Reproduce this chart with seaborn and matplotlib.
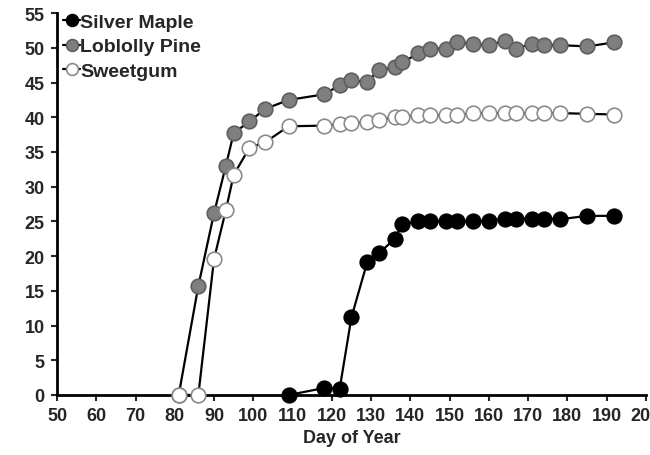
import matplotlib
matplotlib.use('Agg')
import matplotlib.pyplot as plt
import pandas as pd
import seaborn as sns

# Data (day of year vs. value)
days = [81, 86, 90, 93, 95, 99, 103, 109, 118, 122, 125, 129, 132, 136, 138,
        142, 145, 149, 152, 156, 160, 164, 167, 171, 174, 178, 185, 192]

maple_days = [109, 118, 122, 125, 129, 132, 136, 138, 142, 145, 149, 152, 156,
              160, 164, 167, 171, 174, 178, 185, 192]
maple = [0, 1.0, 0.9, 11.2, 19.1, 20.4, 22.5, 24.6, 25.0, 25.0, 25.0, 25.0, 25.0,
         25.1, 25.4, 25.4, 25.4, 25.4, 25.3, 25.8, 25.8]

pine_days = days
pine = [0, 15.7, 26.2, 33.0, 37.7, 39.4, 41.2, 42.5, 43.3, 44.6, 45.3, 45.1, 46.8,
        47.2, 47.9, 49.2, 49.9, 49.9, 50.9, 50.5, 50.4, 51.0, 49.9, 50.6, 50.4,
        50.4, 50.2, 50.8]

gum_days = days
gum = [0, 0, 19.6, 26.6, 31.7, 35.6, 36.4, 38.7, 38.8, 39.0, 39.2, 39.3, 39.6,
       40.0, 40.1, 40.3, 40.3, 40.3, 40.3, 40.6, 40.6, 40.6, 40.6, 40.6, 40.6,
       40.6, 40.5, 40.4]

sns.set_style('ticks')
plt.rcParams['font.family'] = ['Liberation Sans', 'DejaVu Sans']
plt.rcParams['font.weight'] = 'bold'

fig = plt.figure(figsize=(6.5, 4.56), dpi=100)
ax = fig.add_axes([0.0877, 0.1316, 0.906, 0.8374])

series = [
    ('Silver Maple', maple_days, maple, 'black', 'black'),
    ('Loblolly Pine', pine_days, pine, '#7f7f7f', '#5e5e5e'),
    ('Sweetgum', gum_days, gum, 'white', '#8a8a8a'),
]
for name, x, y, fc, ec in series:
    d = pd.DataFrame({'day': x, 'value': y})
    sns.lineplot(data=d, x='day', y='value', ax=ax, color='black', lw=1.6,
                 marker='o', markersize=10.5, markerfacecolor=fc,
                 markeredgecolor=ec, markeredgewidth=1.2, label=name,
                 clip_on=False, zorder=3)

ax.set_xlim(50, 200)
ax.set_ylim(0, 55)
ax.set_xticks(range(50, 201, 10))
ax.set_yticks(range(0, 56, 5))
ax.set_xlabel('Day of Year', fontsize=13, fontweight='bold', labelpad=3)
ax.set_ylabel('')
ax.tick_params(labelsize=13, width=1.5, length=4, direction='out', pad=5)
for lab in ax.get_xticklabels() + ax.get_yticklabels():
    lab.set_fontweight('bold')
sns.despine(ax=ax)
for s in ['left', 'bottom']:
    ax.spines[s].set_linewidth(2)
    ax.spines[s].set_color('black')

leg = ax.legend(loc='upper left', bbox_to_anchor=(-0.01, 1.03), frameon=False,
                handlelength=0.9, handletextpad=0.0, labelspacing=0.35,
                borderaxespad=0.2, prop={'size': 14, 'weight': 'bold'})
for h in leg.legend_handles:
    h.set_markersize(8.5)

fig.savefig('out.png', dpi=100)
